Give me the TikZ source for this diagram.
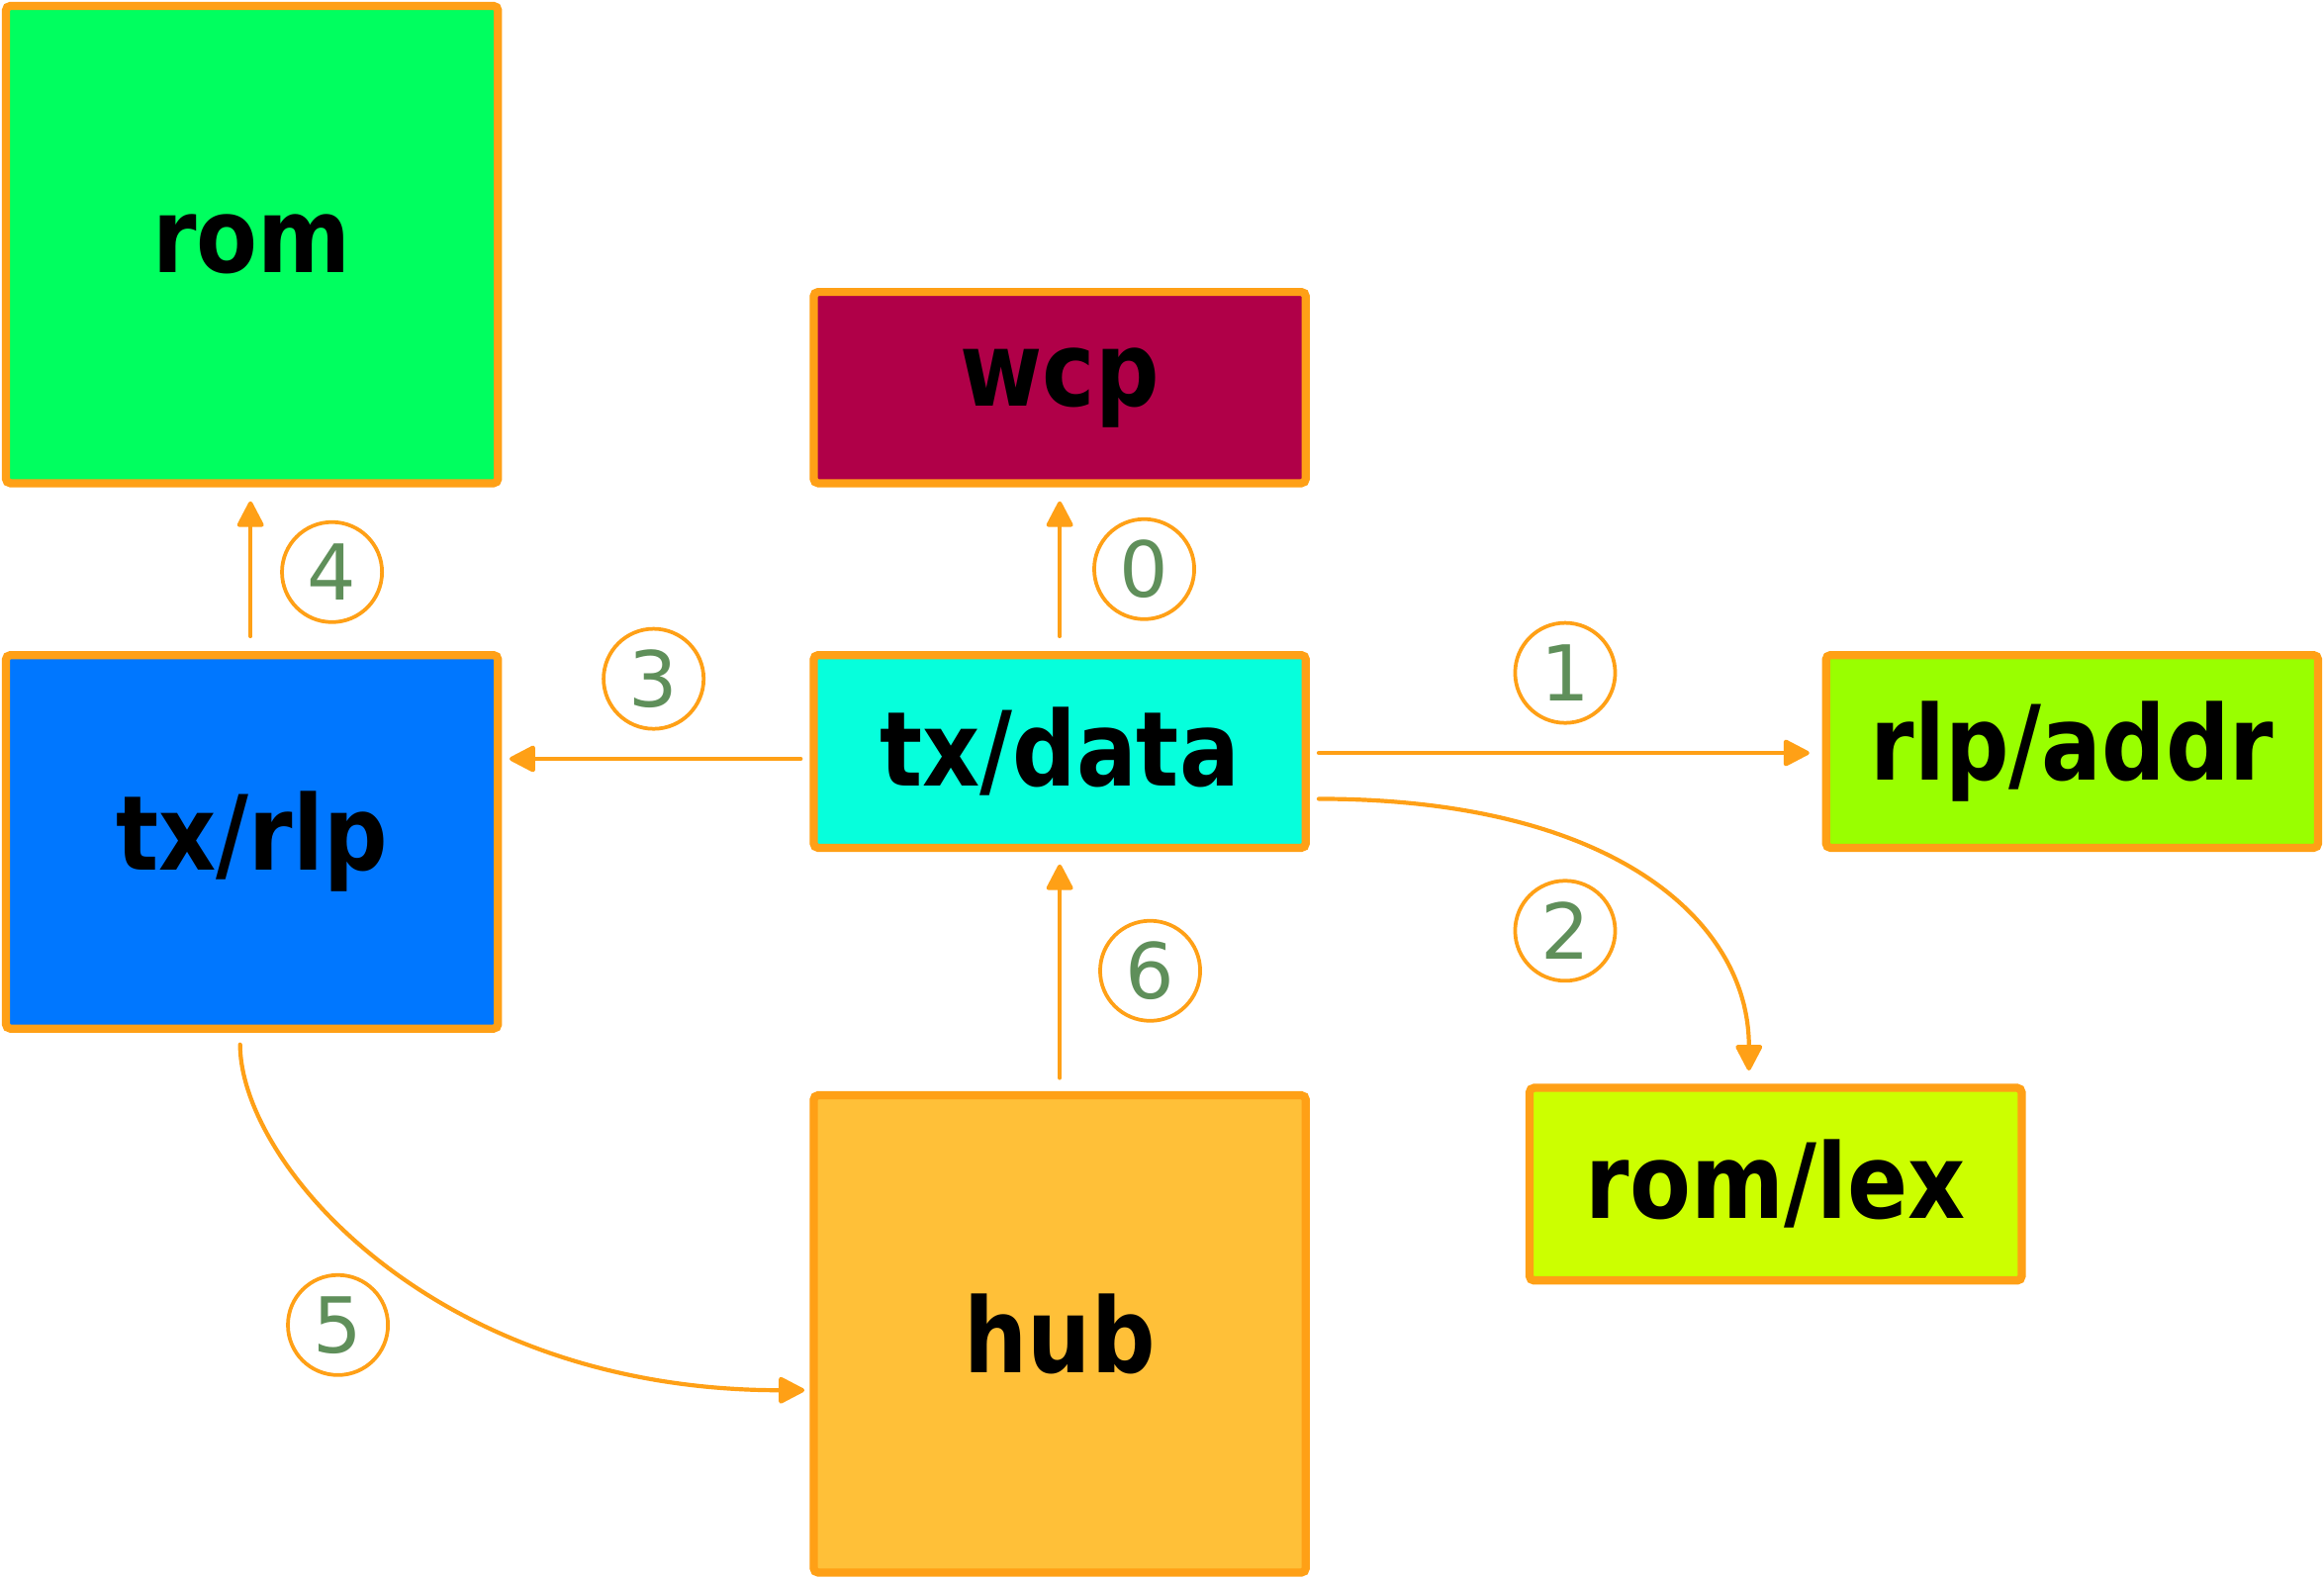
\documentclass[tikz,border=0pt]{standalone}
\usepackage{fontspec}
\setmainfont{DejaVu Sans}
\newfontfamily\boxfont[FakeStretch=0.86]{DejaVu Sans Bold}
\usetikzlibrary{arrows.meta,calc}
\definecolor{edgeor}{RGB}{255,160,22}
\definecolor{labgreen}{RGB}{95,143,90}
\definecolor{romc}{RGB}{0,255,95}
\definecolor{wcpc}{RGB}{176,0,72}
\definecolor{txdatac}{RGB}{6,255,220}
\definecolor{rlpaddrc}{RGB}{153,255,0}
\definecolor{txrlpc}{RGB}{0,119,255}
\definecolor{hubc}{RGB}{255,192,56}
\definecolor{romlexc}{RGB}{204,255,0}
\tikzset{
  box/.style={draw=edgeor, line width=5.5pt, rounded corners=3pt, minimum width=332pt,
    inner sep=0pt, text=black, font=\boxfont\fontsize{70}{80}\selectfont},
  lab/.style={circle, draw=edgeor, line width=2.5pt, minimum size=67.5pt, inner sep=0pt,
    text=labgreen, font=\fontsize{52}{60}\selectfont},
  arr/.style={draw=edgeor, line width=2.8pt, line cap=round,
    -{Triangle[length=19pt,width=19pt,round,fill=edgeor]}}
}
\begin{document}
\begin{tikzpicture}[x=1pt,y=-1pt]
\fill[white] (0,0) rectangle (1568,1065);
\useasboundingbox (0,0) rectangle (1568,1065);
% boxes
\node[box, fill=romc, minimum height=322pt] (rom) at (170,165) {rom};
\node[box, fill=wcpc, minimum height=129pt] (wcp) at (715,261.5) {wcp};
\node[box, fill=txdatac, minimum height=130pt] (txdata) at (715,507) {tx/data};
\node[box, fill=rlpaddrc, minimum height=130pt] (rlpaddr) at (1398,507) {rlp/addr};
\node[box, fill=txrlpc, minimum height=252pt] (txrlp) at (170,568) {tx/rlp};
\node[box, fill=hubc, minimum height=322pt] (hub) at (715,900) {hub};
\node[box, fill=romlexc, minimum height=130pt] (romlex) at (1198,799) {rom/lex};
% connectors
\draw[arr] ($(txdata.north)+(0,-10)$) -- ($(wcp.south)+(0,9.5)$);
\draw[arr] ($(txdata.east)+(6,1)$) -- ($(rlpaddr.west)+(-8.5,1)$);
\draw[arr] ($(txdata.east)+(6,32)$) .. controls +(200,0) and +(0,-100) .. ($(romlex.north)+(-18,-9)$);
\draw[arr] ($(txdata.west)+(-6,5)$) -- ($(txrlp.east |- txdata.west)+(5,5)$);
\draw[arr] ($(txrlp.north)+(-1,-10)$) -- ($(rom.south)+(-1,9.5)$);
\draw[arr] ($(txrlp.south)+(-8,8)$) .. controls +(0,80) and +(-250,0) .. ($(hub.west)+(-3.5,38)$);
\draw[arr] ($(hub.north)+(0,-9)$) -- ($(txdata.south)+(0,8.5)$);
% labels
\node[lab] (l0) at (772,384) {0};
\node[lab] (l1) at (1056,454) {1};
\node[lab] (l2) at (1056,628) {2};
\node[lab] (l3) at (441,458) {3};
\node[lab] (l4) at (224,386) {4};
\node[lab] (l5) at (228,894) {5};
\node[lab] (l6) at (776,655) {6};
\end{tikzpicture}
\end{document}
